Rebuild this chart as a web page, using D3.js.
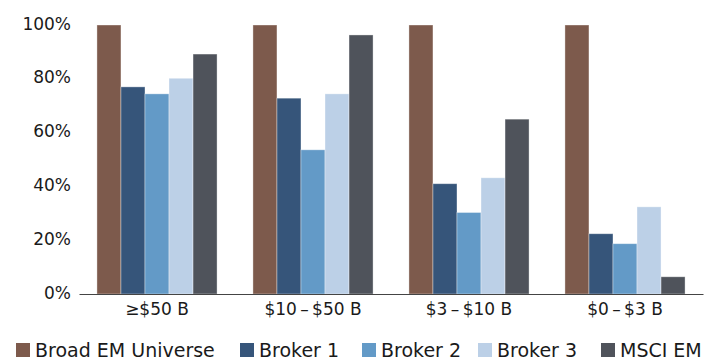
<!DOCTYPE html>
<html>
<head>
<meta charset="utf-8">
<script src="https://cdn.jsdelivr.net/npm/d3@7"></script>
<style>
  html, body { margin: 0; padding: 0; background: #fff; }
  svg text { font-family: "DejaVu Sans", sans-serif; fill: #1a1a1a; }
</style>
</head>
<body>
<svg id="chart" width="721" height="360"></svg>
<script>
// Market-cap buckets and the share of each covered by each source
const categories = ["\u2265$50 B", "$10\u2009\u2013\u2009$50 B", "$3\u2009\u2013\u2009$10 B", "$0\u2009\u2013\u2009$3 B"];
const seriesNames = ["Broad EM Universe", "Broker 1", "Broker 2", "Broker 3", "MSCI EM"];
const broadEM = [100, 100, 100, 100];
const broker1 = [77.0, 72.8, 41.0, 22.4];
const broker2 = [74.4, 53.6, 30.3, 18.7];
const broker3 = [80.2, 74.4, 43.2, 32.4];
const msciEM  = [89.2, 96.3, 65.0, 6.4];
const yTicks = [0, 20, 40, 60, 80, 100];
const colors = ["#7d5a4c", "#36557a", "#639ac7", "#bcd0e7", "#4f535b"];

const values = [broadEM, broker1, broker2, broker3, msciEM];
const FONT = "DejaVu Sans, sans-serif";

const svg = d3.select("#chart");
const margin = { left: 79, right: 18, top: 25, bottom: 66 };
const W = 721, H = 360;

const x0 = d3.scaleBand().domain(categories).range([margin.left, W - margin.right]).paddingInner(0.23).paddingOuter(0.115);
const x1 = d3.scaleBand().domain(seriesNames).range([0, x0.bandwidth()]).padding(0);
const y = d3.scaleLinear().domain([0, 100]).range([H - margin.bottom, margin.top]);

// Y axis labels (no axis line, no ticks)
const yAxis = svg.append("g")
  .attr("transform", `translate(${margin.left},0)`)
  .call(d3.axisLeft(y).tickValues(yTicks).tickFormat(d => d + "%").tickSize(0).tickPadding(8));
yAxis.select(".domain").remove();
yAxis.selectAll("text").attr("font-size", 17).attr("dy", "0.24em").style("font-family", FONT).attr("fill", "#1a1a1a");

// Bars
const groups = svg.append("g").selectAll("g")
  .data(categories)
  .join("g")
  .attr("transform", d => `translate(${x0(d)},0)`);

groups.selectAll("rect")
  .data((c, i) => seriesNames.map((s, j) => ({ s, v: values[j][i], color: colors[j] })))
  .join("rect")
  .attr("x", d => x1(d.s))
  .attr("width", x1.bandwidth())
  .attr("y", d => y(d.v))
  .attr("height", d => y(0) - y(d.v))
  .attr("fill", d => d.color)
  .attr("stroke", "rgba(255,255,255,0.45)")
  .attr("stroke-width", 0.8);

// X axis baseline and category labels
const xAxis = svg.append("g")
  .attr("transform", `translate(0,${y(0)})`)
  .call(d3.axisBottom(x0).tickSize(0).tickPadding(9));
xAxis.select(".domain").attr("stroke", "#444").attr("stroke-width", 1.2);
xAxis.selectAll("text").attr("font-size", 17).style("font-family", FONT).attr("fill", "#1a1a1a");

// Legend
const legendX = [16, 240, 362, 478, 601];
const legend = svg.append("g").selectAll("g")
  .data(seriesNames)
  .join("g")
  .attr("transform", (d, i) => `translate(${legendX[i]},343)`);
legend.append("rect").attr("width", 14).attr("height", 14).attr("fill", (d, i) => colors[i]);
legend.append("text").attr("x", 19).attr("y", 14).attr("font-size", 19).style("font-family", FONT).text(d => d);
</script>
</body>
</html>
